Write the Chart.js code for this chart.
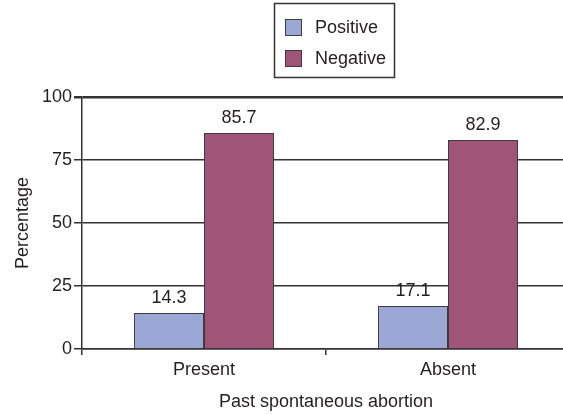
<!DOCTYPE html>
<html>
<head>
<meta charset="utf-8">
<script src="https://cdn.jsdelivr.net/npm/chart.js@4/dist/chart.umd.min.js"></script>
<style>
  html, body { margin: 0; padding: 0; background: #fff; overflow: hidden; }
  #wrap { position: absolute; left: 0; top: 0; width: 570px; height: 415px; }
</style>
</head>
<body>
<div id="wrap"><canvas id="c"></canvas></div>
<script>
// Share of positive / negative results by history of spontaneous abortion
const categories = ['Present', 'Absent'];
const seriesNames = ['Positive', 'Negative'];
const positiveValues = [14.3, 17.1];
const negativeValues = [85.7, 82.9];
const yTicks = [0, 25, 50, 75, 100];
const xTitle = 'Past spontaneous abortion';
const yTitle = 'Percentage';

const FONT = '"Liberation Sans", Arial, sans-serif';
const TEXT = '#231f20';
const LINE = '#333333';
const FILLS = ['#9ba7d5', '#a05478'];

// Values printed above each bar
const valueLabels = {
  id: 'valueLabels',
  afterDatasetsDraw(chart) {
    const ctx = chart.ctx;
    ctx.save();
    ctx.font = '18px ' + FONT;
    ctx.fillStyle = TEXT;
    ctx.textAlign = 'center';
    ctx.textBaseline = 'alphabetic';
    chart.data.datasets.forEach((ds, i) => {
      chart.getDatasetMeta(i).data.forEach((bar, j) => {
        ctx.fillText(ds.data[j].toFixed(1), bar.x, bar.y - 10);
      });
    });
    ctx.restore();
  }
};

// Boxed legend with the series stacked vertically
const boxedLegend = {
  id: 'boxedLegend',
  afterDraw(chart) {
    const ctx = chart.ctx;
    ctx.save();
    ctx.strokeStyle = LINE;
    ctx.lineWidth = 1.5;
    ctx.strokeRect(274.5, 3.5, 120, 74);
    ctx.font = '18px ' + FONT;
    ctx.textBaseline = 'middle';
    ctx.textAlign = 'left';
    chart.data.datasets.forEach((ds, i) => {
      const y = 19 + i * 31;
      ctx.fillStyle = ds.backgroundColor;
      ctx.fillRect(285, y, 17, 17);
      ctx.lineWidth = 1;
      ctx.strokeStyle = '#3c3c3c';
      ctx.strokeRect(285.5, y + 0.5, 16, 16);
      ctx.fillStyle = TEXT;
      ctx.fillText(ds.label, 315, y + 9);
    });
    ctx.restore();
  }
};

new Chart(document.getElementById('c'), {
  type: 'bar',
  data: {
    labels: categories,
    datasets: [
      { label: seriesNames[0], data: positiveValues, backgroundColor: FILLS[0],
        borderColor: '#3c3c3c', borderWidth: 1 },
      { label: seriesNames[1], data: negativeValues, backgroundColor: FILLS[1],
        borderColor: '#3c3c3c', borderWidth: 1 }
    ]
  },
  options: {
    responsive: true,
    maintainAspectRatio: false,
    animation: false,
    layout: { padding: { top: 97, left: 0, right: 0, bottom: 0 } },
    datasets: { bar: { barPercentage: 1, categoryPercentage: 0.574 } },
    plugins: { legend: { display: false }, tooltip: { enabled: false } },
    scales: {
      x: {
        afterFit(s) { s.height = 66; },
        grid: { display: true, offset: true, drawOnChartArea: false, drawTicks: true,
                tickLength: 6, color: LINE, lineWidth: 1.5 },
        border: { display: true, color: LINE, width: 1.5 },
        ticks: { color: TEXT, font: { family: FONT, size: 18 }, padding: 4 },
        title: { display: true, text: xTitle, color: TEXT,
                 font: { family: FONT, size: 18 }, padding: { top: 0, bottom: 2 } }
      },
      y: {
        min: 0, max: 100,
        afterFit(s) { s.width = 82; },
        afterBuildTicks(s) { s.ticks = yTicks.map(v => ({ value: v })); },
        grid: { color: LINE, lineWidth: c => (c.tick && c.tick.value === 100 ? 2.5 : 1.5),
                tickLength: 8, drawTicks: true },
        border: { display: true, color: LINE, width: 1.5 },
        ticks: { color: TEXT, font: { family: FONT, size: 18 }, padding: 2 },
        title: { display: true, text: yTitle, color: TEXT,
                 font: { family: FONT, size: 18 }, padding: { top: 12, bottom: 0 } }
      }
    }
  },
  plugins: [valueLabels, boxedLegend]
});
</script>
</body>
</html>
